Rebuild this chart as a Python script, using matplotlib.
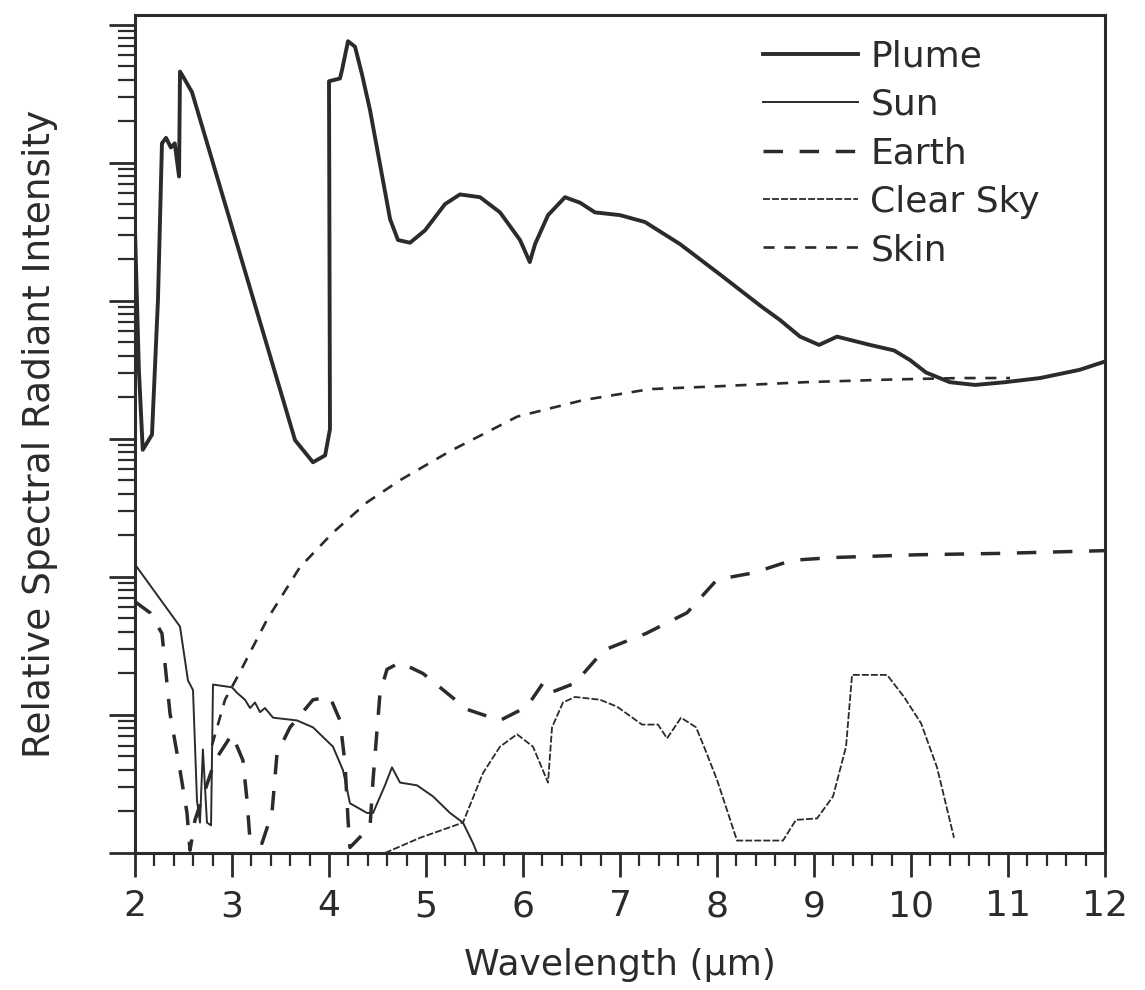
import numpy as np
import matplotlib
matplotlib.use("Agg")
import matplotlib.pyplot as plt

plt.rcParams['font.family'] = ['DejaVu Sans']
plt.rcParams['lines.scale_dashes'] = False

# wavelength (um) and log10 of relative intensity
plume_x = [2.00, 2.04, 2.08, 2.175, 2.237, 2.278, 2.32, 2.37, 2.41, 2.454, 2.464,
           2.515, 2.588, 3.65, 3.835, 3.96, 4.01, 4.0, 4.113, 4.134, 4.196, 4.268,
           4.34, 4.423, 4.63, 4.711, 4.835, 4.99, 5.196, 5.35, 5.557, 5.763, 5.969,
           6.07, 6.124, 6.258, 6.433, 6.588, 6.742, 7.0, 7.258, 7.619, 8.031, 8.454,
           8.65, 8.856, 9.052, 9.237, 9.577, 9.825, 9.99, 10.155, 10.40, 10.66,
           10.97, 11.33, 11.74, 12.0]
plume_y = [4.51, 3.50, 2.92, 3.03, 4.01, 5.14, 5.18, 5.11, 5.14, 4.90, 5.66,
           5.60, 5.51, 2.99, 2.83, 2.88, 3.07, 5.59, 5.61, 5.67, 5.88, 5.84,
           5.64, 5.38, 4.59, 4.44, 4.42, 4.51, 4.70, 4.77, 4.75, 4.64, 4.44,
           4.28, 4.41, 4.62, 4.75, 4.71, 4.64, 4.62, 4.57, 4.41, 4.19, 3.96,
           3.86, 3.74, 3.68, 3.74, 3.68, 3.64, 3.57, 3.48, 3.41, 3.39,
           3.41, 3.44, 3.50, 3.56]

sun_x = [2.0, 2.464, 2.546, 2.598, 2.639, 2.67, 2.70, 2.742, 2.784, 2.804, 3.0,
         3.052, 3.134, 3.186, 3.237, 3.289, 3.34, 3.423, 3.67, 3.835, 4.041, 4.144,
         4.216, 4.392, 4.454, 4.577, 4.649, 4.732, 4.907, 5.072, 5.247, 5.381,
         5.485, 5.526]
sun_y = [2.09, 1.64, 1.25, 1.18, 0.38, 0.22, 0.75, 0.22, 0.20, 1.22, 1.20,
         1.16, 1.11, 1.05, 1.09, 1.02, 1.05, 0.98, 0.96, 0.91, 0.77, 0.60,
         0.36, 0.29, 0.29, 0.49, 0.62, 0.51, 0.49, 0.41, 0.29, 0.22,
         0.07, 0.0]

earth_x = [2.0, 2.155, 2.278, 2.361, 2.464, 2.536, 2.567, 2.619, 2.825, 3.0,
           3.113, 3.155, 3.186, 3.309, 3.412, 3.464, 3.598, 3.835, 4.01, 4.113,
           4.165, 4.196, 4.216, 4.423, 4.454, 4.526, 4.598, 4.732, 4.969, 5.423,
           5.763, 6.041, 6.206, 6.278, 6.536, 6.835, 7.268, 7.691, 8.0, 8.381,
           8.773, 9.196, 10.062, 10.918, 12.0]
earth_y = [1.82, 1.74, 1.59, 1.01, 0.60, 0.29, 0.02, 0.24, 0.67, 0.86,
           0.67, 0.38, 0.09, 0.07, 0.29, 0.72, 0.91, 1.11, 1.13, 0.96,
           0.65, 0.24, 0.04, 0.19, 0.53, 1.16, 1.33, 1.38, 1.30, 1.04,
           0.96, 1.06, 1.23, 1.16, 1.23, 1.47, 1.59, 1.74, 1.98, 2.03,
           2.12, 2.14, 2.16, 2.17, 2.19]

sky_x = [4.577, 4.938, 5.381, 5.588, 5.763, 5.938, 6.103, 6.258, 6.299, 6.412,
         6.536, 6.794, 6.969, 7.227, 7.392, 7.485, 7.629, 7.784, 7.866, 8.0,
         8.206, 8.68, 8.814, 9.031, 9.196, 9.33, 9.392, 9.753, 9.928, 10.103,
         10.268, 10.443]
sky_y = [0.0, 0.11, 0.22, 0.58, 0.77, 0.86, 0.77, 0.51, 0.91, 1.09,
         1.13, 1.11, 1.06, 0.93, 0.93, 0.83, 0.98, 0.91, 0.77, 0.53,
         0.09, 0.09, 0.24, 0.25, 0.41, 0.77, 1.29, 1.29, 1.13, 0.94,
         0.62, 0.11]

skin_x = [2.794, 2.928, 3.082, 3.361, 3.70, 4.04, 4.392, 4.732, 5.247, 5.938,
          6.619, 7.309, 8.0, 8.907, 9.825, 10.505, 11.02]
skin_y = [0.78, 1.11, 1.31, 1.69, 2.07, 2.32, 2.54, 2.70, 2.91, 3.16,
          3.28, 3.36, 3.38, 3.41, 3.43, 3.44, 3.44]

ink = '#2b2b2b'

fig = plt.figure(figsize=(11.45, 9.9), dpi=100)
ax = fig.add_axes([0.1179, 0.1384, 0.8472, 0.8465])

ax.plot(plume_x, 10 ** np.array(plume_y), color=ink, lw=2.8, label='Plume')
ax.plot(sun_x, 10 ** np.array(sun_y), color=ink, lw=1.4, label='Sun')
ax.plot(earth_x, 10 ** np.array(earth_y), color=ink, lw=2.5,
        dashes=(14, 12), label='Earth')
ax.plot(sky_x, 10 ** np.array(sky_y), color=ink, lw=1.3,
        dashes=(5, 1.5), label='Clear Sky')
ax.plot(skin_x, 10 ** np.array(skin_y), color=ink, lw=1.9,
        dashes=(8, 7), label='Skin')

ax.set_yscale('log')
ax.set_xlim(2, 12)
ax.set_ylim(1, 10 ** 6.07)
ax.set_xticks(range(2, 13))
ax.set_xticks(np.arange(2, 12.01, 0.2), minor=True)
ax.yaxis.set_major_locator(matplotlib.ticker.LogLocator(base=10, numticks=10))
ax.yaxis.set_minor_locator(matplotlib.ticker.LogLocator(base=10, subs=np.arange(2, 10), numticks=10))
ax.yaxis.set_major_formatter(matplotlib.ticker.NullFormatter())
ax.yaxis.set_minor_formatter(matplotlib.ticker.NullFormatter())

ax.tick_params(axis='x', which='major', direction='out', length=17, width=2, color=ink,
               labelsize=26, labelcolor=ink, pad=9)
ax.tick_params(axis='x', which='minor', direction='out', length=9.5, width=1.6, color=ink)
ax.tick_params(axis='y', which='major', direction='out', length=19, width=2, color=ink)
ax.tick_params(axis='y', which='minor', direction='out', length=12, width=1.6, color=ink)
for s in ax.spines.values():
    s.set_linewidth(2.2)
    s.set_color(ink)

ax.set_xlabel('Wavelength (\u00b5m)', fontsize=26, color=ink, labelpad=18)
ax.set_ylabel('Relative Spectral Radiant Intensity', fontsize=27, color=ink, labelpad=33)

ax.legend(loc='upper left', bbox_to_anchor=(0.6474, 0.971), frameon=False,
          fontsize=26, handlelength=2.64, handletextpad=0.33, labelspacing=0.4,
          borderpad=0, borderaxespad=0, labelcolor=ink)

fig.savefig('out.png', dpi=100)
